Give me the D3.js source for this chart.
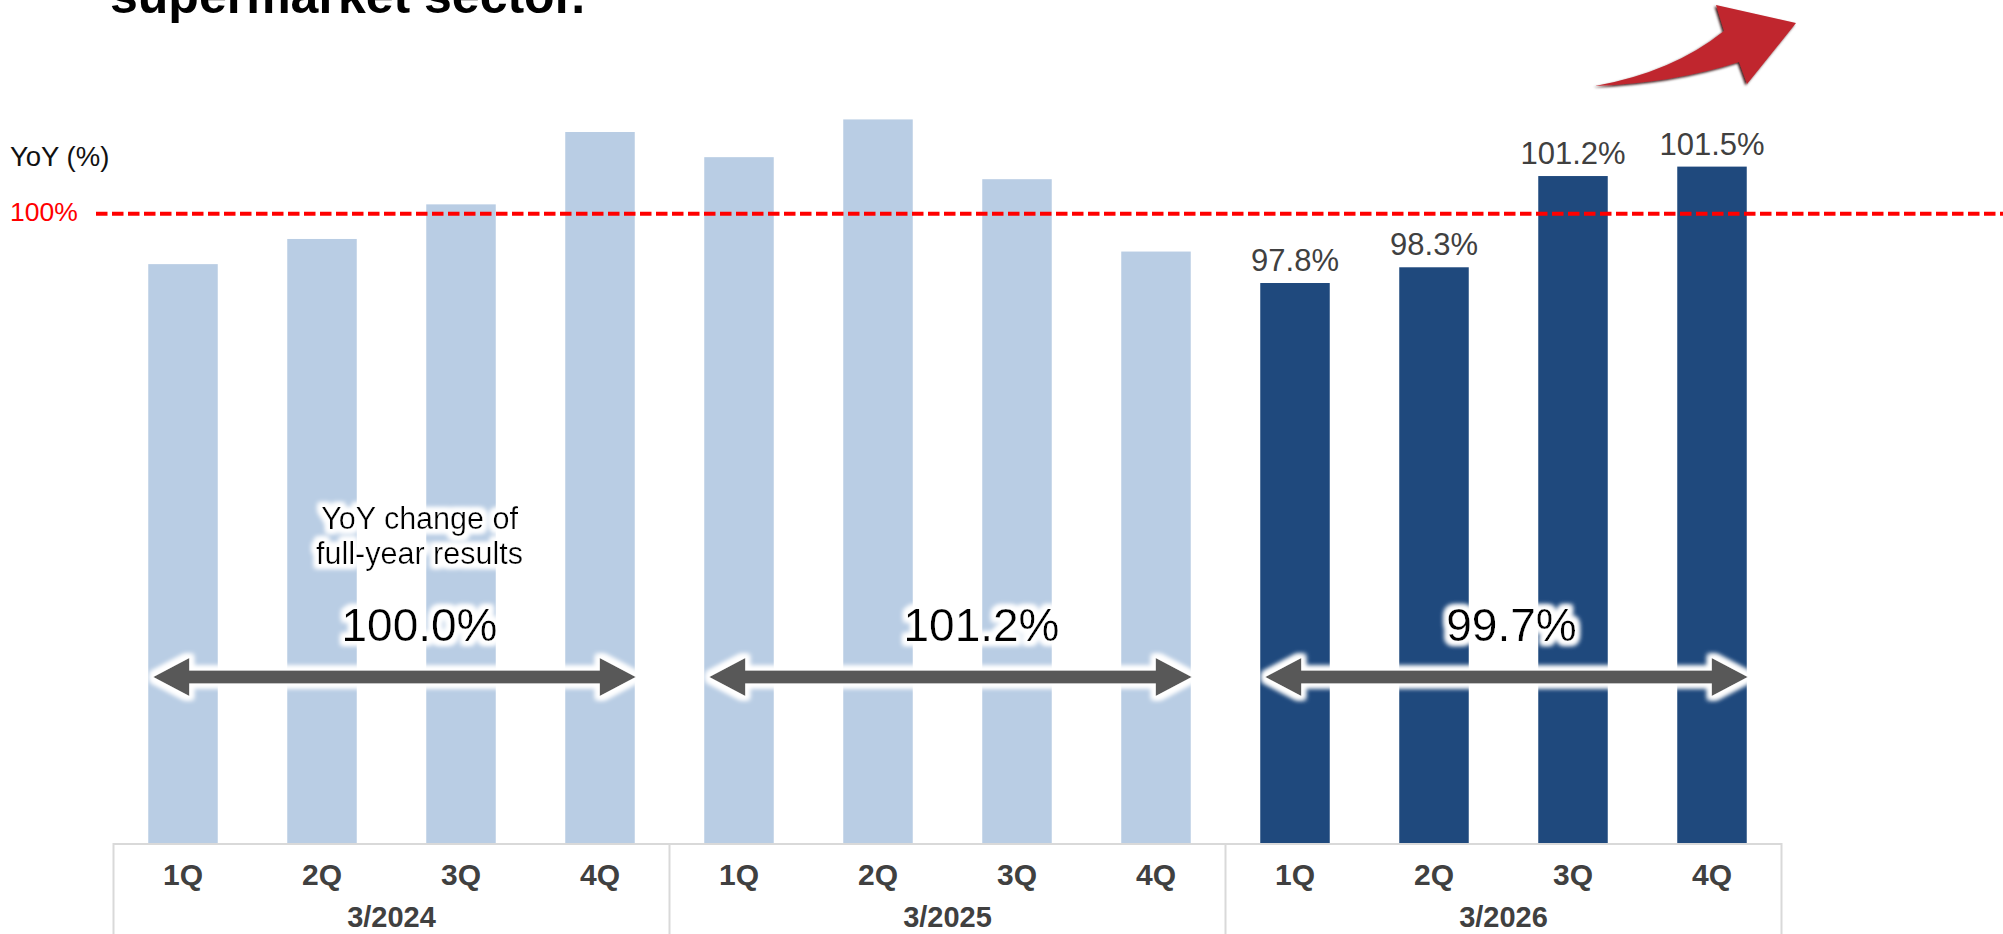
<!DOCTYPE html>
<html>
<head>
<meta charset="utf-8">
<script src="https://cdn.jsdelivr.net/npm/d3@7"></script>
<style>
  html, body { margin: 0; padding: 0; background: #ffffff; }
  svg { display: block; font-family: "Liberation Sans", Arial, sans-serif; }
</style>
</head>
<body>
<svg id="chart" width="2003" height="934"></svg>
<script>
// Quarterly YoY (%) by fiscal year
const fiscalYears = ["3/2024", "3/2025", "3/2026"];
const quarters = ["1Q", "2Q", "3Q", "4Q"];
const yoy2024 = [98.4, 99.2, 100.3, 102.6];
const yoy2025 = [101.8, 103.0, 101.1, 98.8];
const yoy2026 = [97.8, 98.3, 101.2, 101.5];
const fullYearYoY = [100.0, 101.2, 99.7];
const referenceLevel = 100;
const labelledYear = "3/2026";

const seriesByYear = [yoy2024, yoy2025, yoy2026];

// flat rows built from the arrays above
const rows = [];
fiscalYears.forEach((fy, i) => {
  quarters.forEach((q, j) => {
    rows.push({ key: fy + "-" + q, year: fy, quarter: q, value: seriesByYear[i][j] });
  });
});

const W = 2003, H = 934;
const baseY = 843;
const svg = d3.select("#chart");

const x = d3.scaleBand()
  .domain(rows.map(d => d.key))
  .range([113.5, 1781.5])
  .paddingInner(0.5)
  .paddingOuter(0.25);

const y = d3.scaleLinear()
  .domain([80, 104])
  .range([baseY, baseY - 24 * 31.46]);

const fmt = v => d3.format(".1f")(v) + "%";

// filters: soft white glow and arrow shadow
const defs = svg.append("defs");
const glow = defs.append("filter").attr("id", "glow")
  .attr("x", "-20%").attr("y", "-40%").attr("width", "140%").attr("height", "180%");
glow.append("feMorphology").attr("in", "SourceAlpha").attr("operator", "dilate").attr("radius", 3.5).attr("result", "thick");
glow.append("feGaussianBlur").attr("in", "thick").attr("stdDeviation", 2.8).attr("result", "blur");
glow.append("feFlood").attr("flood-color", "#ffffff").attr("result", "white");
glow.append("feComposite").attr("in", "white").attr("in2", "blur").attr("operator", "in").attr("result", "halo");
const gm = glow.append("feMerge");
gm.append("feMergeNode").attr("in", "halo");
gm.append("feMergeNode").attr("in", "halo");
gm.append("feMergeNode").attr("in", "SourceGraphic");

const shadow = defs.append("filter").attr("id", "arrowShadow")
  .attr("x", "-10%").attr("y", "-10%").attr("width", "120%").attr("height", "130%");
shadow.append("feDropShadow").attr("dx", -1.5).attr("dy", 1.5).attr("stdDeviation", 0.8)
  .attr("flood-color", "#2a0505").attr("flood-opacity", 0.9);

// title (second line visible)
svg.append("text")
  .attr("x", 110).attr("y", 13)
  .attr("font-size", 50).attr("font-weight", "bold").attr("fill", "#000")
  .text("supermarket sector.");

// upward trend arrow
const trend = d3.path();
trend.moveTo(1595, 86);
trend.quadraticCurveTo(1673, 72, 1724, 31);
trend.lineTo(1716, 5);
trend.lineTo(1796, 23);
trend.lineTo(1747, 84);
trend.lineTo(1739, 62);
trend.quadraticCurveTo(1673, 83, 1595, 86);
trend.closePath();
svg.append("path").attr("d", trend.toString())
  .attr("fill", "#c0262f").attr("filter", "url(#arrowShadow)");

// bars
svg.append("g").selectAll("rect")
  .data(rows)
  .join("rect")
  .attr("x", d => x(d.key))
  .attr("width", x.bandwidth())
  .attr("y", d => y(d.value))
  .attr("height", d => y.range()[0] - y(d.value))
  .attr("fill", d => d.year === labelledYear ? "#1f497d" : "#b9cde4");

// value labels for the current fiscal year
svg.append("g").selectAll("text")
  .data(rows.filter(d => d.year === labelledYear))
  .join("text")
  .attr("x", d => x(d.key) + x.bandwidth() / 2)
  .attr("y", d => y(d.value) - 12)
  .attr("text-anchor", "middle")
  .attr("font-size", 31)
  .attr("fill", "#404040")
  .text(d => fmt(d.value));

// 100% reference line
svg.append("line")
  .attr("x1", 96).attr("x2", W)
  .attr("y1", y(referenceLevel)).attr("y2", y(referenceLevel))
  .attr("stroke", "#ff0000").attr("stroke-width", 4)
  .attr("stroke-dasharray", "11.5,4.5");

svg.append("text")
  .attr("x", 10).attr("y", 166)
  .attr("font-size", 27.5).attr("fill", "#111")
  .text("YoY (%)");
svg.append("text")
  .attr("x", 10).attr("y", y(referenceLevel) + 7)
  .attr("font-size", 26.5).attr("fill", "#ff0000")
  .text(referenceLevel + "%");

// category axis: quarter row and fiscal-year row
const axisG = svg.append("g");
const step = x.step();
const firstKey = fy => fy + "-" + quarters[0];
const lastKey = fy => fy + "-" + quarters[quarters.length - 1];
const groupLeft = fy => x(firstKey(fy)) - (step - x.bandwidth()) / 2;
const groupRight = fy => x(lastKey(fy)) + x.bandwidth() + (step - x.bandwidth()) / 2;
const x0 = groupLeft(fiscalYears[0]);
const x1 = groupRight(fiscalYears[fiscalYears.length - 1]);

axisG.append("line")
  .attr("x1", x0).attr("x2", x1)
  .attr("y1", baseY + 1).attr("y2", baseY + 1)
  .attr("stroke", "#d9d9d9").attr("stroke-width", 2);

const dividers = fiscalYears.map(groupLeft).concat([x1]);
axisG.selectAll("line.div")
  .data(dividers)
  .join("line").attr("class", "div")
  .attr("x1", d => d).attr("x2", d => d)
  .attr("y1", baseY).attr("y2", H)
  .attr("stroke", "#d9d9d9").attr("stroke-width", 2);

axisG.selectAll("text.q")
  .data(rows)
  .join("text").attr("class", "q")
  .attr("x", d => x(d.key) + x.bandwidth() / 2)
  .attr("y", 885)
  .attr("text-anchor", "middle")
  .attr("font-family", "'Liberation Sans Narrow', 'Arial Narrow', sans-serif")
  .attr("font-size", 30).attr("font-weight", "bold").attr("fill", "#404040")
  .text(d => d.quarter);

axisG.selectAll("text.fy")
  .data(fiscalYears)
  .join("text").attr("class", "fy")
  .attr("x", fy => (groupLeft(fy) + groupRight(fy)) / 2)
  .attr("y", 927)
  .attr("text-anchor", "middle")
  .attr("font-family", "'Liberation Sans Narrow', 'Arial Narrow', sans-serif")
  .attr("font-size", 29).attr("font-weight", "bold").attr("fill", "#404040")
  .text(fy => fy);

// full-year annotations: double-headed arrows and values
const annoShift = [28, 34, 8];
const arrowY = 677;
const annG = svg.append("g").attr("filter", "url(#glow)");

fiscalYears.forEach((fy, i) => {
  const a = x(firstKey(fy)) + 5;
  const b = x(lastKey(fy)) + x.bandwidth() + 1;
  const hl = 36, hh = 19, sh = 6.5;
  const p = d3.path();
  p.moveTo(a, arrowY);
  p.lineTo(a + hl, arrowY - hh);
  p.lineTo(a + hl, arrowY - sh);
  p.lineTo(b - hl, arrowY - sh);
  p.lineTo(b - hl, arrowY - hh);
  p.lineTo(b, arrowY);
  p.lineTo(b - hl, arrowY + hh);
  p.lineTo(b - hl, arrowY + sh);
  p.lineTo(a + hl, arrowY + sh);
  p.lineTo(a + hl, arrowY + hh);
  p.closePath();
  annG.append("path").attr("d", p.toString()).attr("fill", "#595959");

  const cx = (x(firstKey(fy)) + x(lastKey(fy)) + x.bandwidth()) / 2 + annoShift[i];
  annG.append("text")
    .attr("x", cx).attr("y", 641)
    .attr("text-anchor", "middle")
    .attr("font-size", 46).attr("fill", "#000")
    .text(fmt(fullYearYoY[i]));
});

const note = annG.append("text")
  .attr("text-anchor", "middle")
  .attr("font-size", 30.5).attr("fill", "#000");
const noteX = (x(firstKey(fiscalYears[0])) + x(lastKey(fiscalYears[0])) + x.bandwidth()) / 2 + annoShift[0];
note.append("tspan").attr("x", noteX).attr("y", 529).text("YoY change of");
note.append("tspan").attr("x", noteX).attr("y", 564).text("full-year results");
</script>
</body>
</html>
